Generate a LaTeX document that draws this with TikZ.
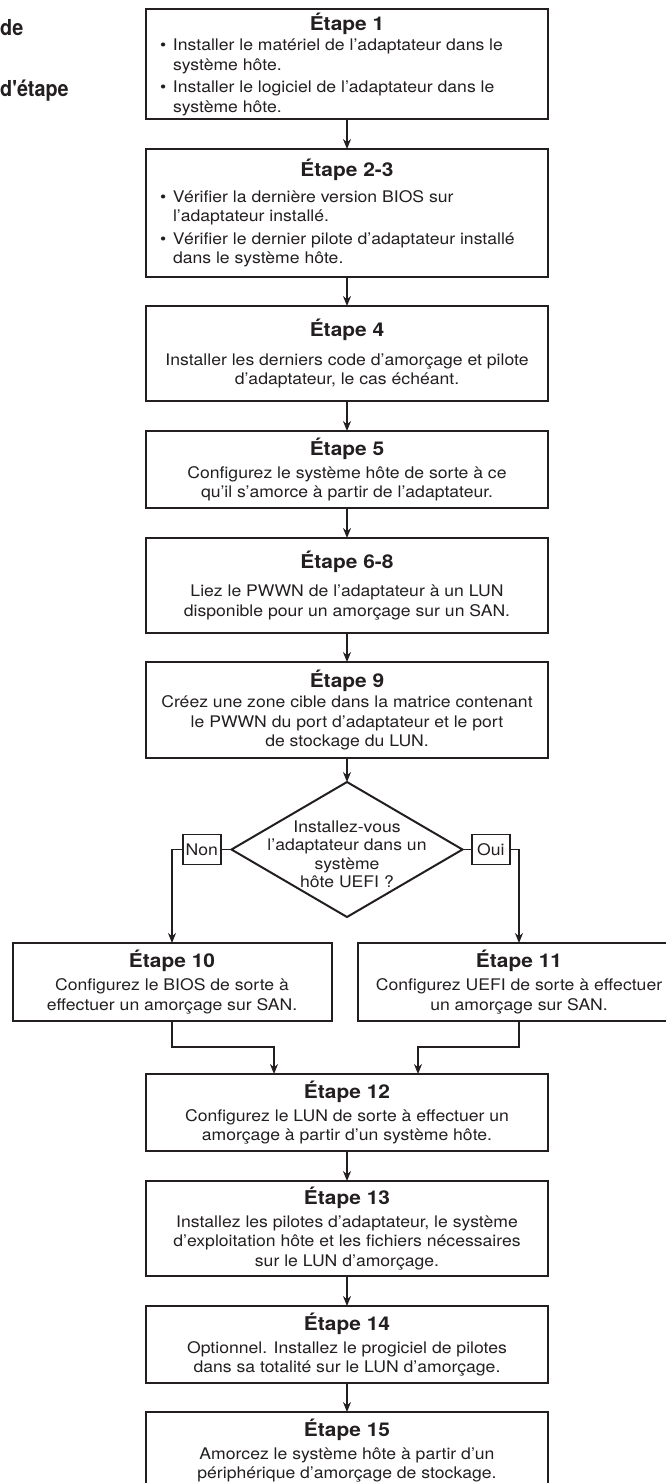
\documentclass[tikz,border=0pt]{standalone}
\usepackage{fontspec}
\setmainfont{TeX Gyre Heros}[FakeStretch=1.1]
\newfontfamily\legendfont{TeX Gyre Heros}[FakeStretch=0.9]
\usetikzlibrary{arrows.meta,positioning,shapes.geometric}
\definecolor{ink}{HTML}{231F20}
\tikzstyle{Arrow}=[draw=ink, line width=1.5pt, -{Stealth[length=10pt,width=8pt]}]
\newcommand{\Etape}[1]{{\bfseries\fontsize{19}{22}\selectfont Étape #1}}
\newcommand{\Puce}[2]{\makebox[374pt][l]{\makebox[13pt][l]{#1}#2}}

\begin{document}
\begin{tikzpicture}[
  x=1pt, y=-1pt,
  node distance = 30pt,
  Box/.style={draw=ink, line width=2pt, minimum width=402pt, inner sep=3pt, outer sep=0, align=center, text=ink, font=\fontsize{16}{19.5}\selectfont},
  Decision/.style={draw=ink, line width=2pt, diamond, minimum width=231pt, minimum height=135pt, inner sep=0pt, outer sep=0},
  Lbl/.style={draw=ink, line width=1.5pt, fill=white, inner sep=0pt, minimum width=38pt, minimum height=30pt, text=ink, font=\fontsize{16}{19}\selectfont},
  Legend/.style={anchor=base west, inner sep=0pt, text=ink, font=\legendfont\bfseries\fontsize{22}{26}\selectfont}
]
\useasboundingbox (0,0) rectangle (666,1483);
\clip (0,0) rectangle (666,1483);

\node[Legend] (lg1) at (0,35) {de};
\node[Legend] (lg2) at (0,96) {d'étape};

\node[Box, minimum height=110pt] (e1) at (347,64) {\Etape{1}\\[1pt]
  \Puce{\textbullet}{Installer le matériel de l'adaptateur dans le}\\
  \Puce{}{système hôte.}\\[3pt]
  \Puce{\textbullet}{Installer le logiciel de l'adaptateur dans le}\\
  \Puce{}{système hôte.}};
\node[Box, minimum height=128pt, below=30pt of e1] (e23) {\Etape{2-3}\\[6pt]
  \Puce{\textbullet}{Vérifier la dernière version BIOS sur}\\
  \Puce{}{l'adaptateur installé.}\\[3pt]
  \Puce{\textbullet}{Vérifier le dernier pilote d'adaptateur installé}\\
  \Puce{}{dans le système hôte.}};
\node[Box, minimum height=95pt, below=29pt of e23] (e4) {\Etape{4}\\[9pt]
  Installer les derniers code d'amorçage et pilote\\
  d'adaptateur, le cas échéant.};
\node[Box, minimum height=77pt, below=30pt of e4] (e5) {\Etape{5}\\[3.5pt]
  Configurez le système hôte de sorte à ce\\
  qu'il s'amorce à partir de l'adaptateur.};
\node[Box, minimum height=95pt, below=30pt of e5] (e68) {\Etape{6-8}\\[9pt]
  Liez le PWWN de l'adaptateur à un LUN\\
  disponible pour un amorçage sur un SAN.};
\node[Box, minimum height=96pt, below=29pt of e68] (e9) {\Etape{9}\\[1pt]
  Créez une zone cible dans la matrice contenant\\
  le PWWN du port d'adaptateur et le port\\
  de stockage du LUN.};
\node[Decision, below=24pt of e9] (dec) {};
\node[align=center, text=ink, font=\fontsize{16}{18.5}\selectfont] (q) at ([yshift=-5pt]dec.center) {Installez-vous\\l'adaptateur dans un\\système\\hôte UEFI ?};
\node[Box, minimum width=319pt, minimum height=78pt] (e10) at (172,982) {\Etape{10}\\[3.5pt]
  Configurez le BIOS de sorte à\\
  effectuer un amorçage sur SAN.};
\node[Box, minimum width=322pt, minimum height=78pt] (e11) at (519,982) {\Etape{11}\\[3.5pt]
  Configurez UEFI de sorte à effectuer\\
  un amorçage sur SAN.};
\node[Box, minimum height=77pt] (e12) at (347,1112.5) {\Etape{12}\\[3.5pt]
  Configurez le LUN de sorte à effectuer un\\
  amorçage à partir d'un système hôte.};
\node[Box, minimum height=95pt, below=30pt of e12] (e13) {\Etape{13}\\[3pt]
  Installez les pilotes d'adaptateur, le système\\
  d'exploitation hôte et les fichiers nécessaires\\
  sur le LUN d'amorçage.};
\node[Box, minimum height=77pt, below=30pt of e13] (e14) {\Etape{14}\\[3.5pt]
  Optionnel. Installez le progiciel de pilotes\\
  dans sa totalité sur le LUN d'amorçage.};
\node[Box, minimum height=77pt, below=29pt of e14] (e15) {\Etape{15}\\[3.5pt]
  Amorcez le système hôte à partir d'un\\
  périphérique d'amorçage de stockage.};

\draw[Arrow] (e1) -- (e23);
\draw[Arrow] (e23) -- (e4);
\draw[Arrow] (e4) -- (e5);
\draw[Arrow] (e5) -- (e68);
\draw[Arrow] (e68) -- (e9);
\draw[Arrow] (e9) -- (dec);
\draw[Arrow] (dec.west) -- node[Lbl] {Non} (dec.west -| e10.north) -- (e10.north);
\draw[Arrow] (dec.east) -- node[Lbl] {Oui} (dec.east -| e11.north) -- (e11.north);
\draw[Arrow] (e10.south) -- ++(0,26) -| ([xshift=-73pt]e12.north);
\draw[Arrow] (e11.south) -- ++(0,26) -| ([xshift=71pt]e12.north);
\draw[Arrow] (e12) -- (e13);
\draw[Arrow] (e13) -- (e14);
\draw[Arrow] (e14) -- (e15);

\end{tikzpicture}
\end{document}
